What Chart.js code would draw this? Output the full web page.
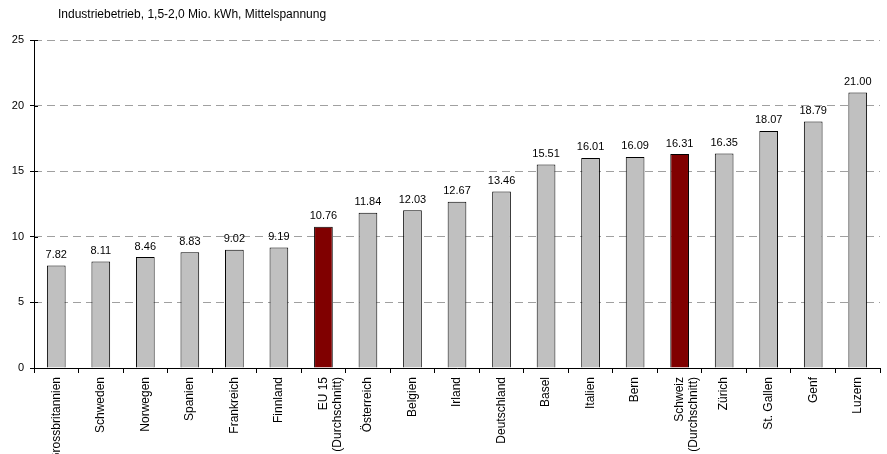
<!DOCTYPE html>
<html lang="de">
<head>
<meta charset="UTF-8">
<title>Industriebetrieb Strompreise</title>
<script src="https://cdn.jsdelivr.net/npm/chart.js"></script>
<style>
  html, body { margin: 0; padding: 0; background: #fff; }
  #wrap { width: 887px; height: 454px; position: relative; }
</style>
</head>
<body>
<div id="wrap"><canvas id="chart"></canvas></div>
<script>
// --- data ---
const categories = [
  'Grossbritannien', 'Schweden', 'Norwegen', 'Spanien', 'Frankreich', 'Finnland',
  ['EU 15', '(Durchschnitt)'], 'Österreich', 'Belgien', 'Irland', 'Deutschland',
  'Basel', 'Italien', 'Bern', ['Schweiz', '(Durchschnitt)'], 'Zürich', 'St. Gallen',
  'Genf', 'Luzern'
];
const values = [7.82, 8.11, 8.46, 8.83, 9.02, 9.19, 10.76, 11.84, 12.03, 12.67, 13.46,
  15.51, 16.01, 16.09, 16.31, 16.35, 18.07, 18.79, 21.00];
const highlighted = [6, 14];   // average bars
const yTicks = [0, 5, 10, 15, 20, 25];
const titleText = 'Industriebetrieb, 1,5-2,0 Mio. kWh, Mittelspannung';

const FONT = '"Liberation Sans", Arial, sans-serif';

const barColors = values.map((v, i) => highlighted.includes(i) ? '#800000' : '#c0c0c0');

// value labels above bars, title, solid y axis line with crossing ticks
const extras = {
  id: 'extras',
  afterDatasetsDraw(chart) {
    const ctx = chart.ctx;
    const area = chart.chartArea;
    const yScale = chart.scales.y;
    const meta = chart.getDatasetMeta(0);
    ctx.save();
    ctx.strokeStyle = '#000';
    ctx.lineWidth = 1;
    ctx.beginPath();
    ctx.moveTo(area.left + 0.5, area.top);
    ctx.lineTo(area.left + 0.5, area.bottom);
    yTicks.forEach(v => {
      const y = Math.round(yScale.getPixelForValue(v)) + 0.5;
      ctx.moveTo(area.left, y);
      ctx.lineTo(area.left + 4, y);
    });
    ctx.stroke();
    ctx.fillStyle = '#000';
    ctx.font = '11px ' + FONT;
    ctx.textAlign = 'center';
    ctx.textBaseline = 'bottom';
    meta.data.forEach((bar, i) => {
      ctx.fillText(values[i].toFixed(2), bar.x, bar.y - 5);
    });
    ctx.font = '12px ' + FONT;
    ctx.textAlign = 'left';
    ctx.textBaseline = 'middle';
    ctx.fillText(titleText, 58, 15);
    ctx.restore();
  }
};

new Chart(document.getElementById('chart'), {
  type: 'bar',
  data: {
    labels: categories,
    datasets: [{
      data: values,
      backgroundColor: barColors,
      borderColor: '#000',
      borderWidth: 1,
      categoryPercentage: 1,
      barPercentage: 0.42
    }]
  },
  options: {
    responsive: true,
    maintainAspectRatio: false,
    animation: false,
    layout: { padding: { top: 40, right: 7, left: 0, bottom: 0 } },
    plugins: {
      legend: { display: false },
      tooltip: { enabled: false }
    },
    scales: {
      x: {
        afterFit(scale) { scale.height = 86; },
        border: { color: '#000', width: 1 },
        grid: {
          offset: true,
          drawOnChartArea: false,
          drawTicks: true,
          tickLength: 5,
          tickColor: '#000'
        },
        ticks: {
          minRotation: 90,
          maxRotation: 90,
          autoSkip: false,
          color: '#000',
          padding: 4,
          font: { family: FONT, size: 12 }
        }
      },
      y: {
        min: 0,
        max: 25,
        afterFit(scale) { scale.width = 34; },
        afterBuildTicks(scale) { scale.ticks = yTicks.map(v => ({ value: v })); },
        border: { display: false, dash: [8, 5] },
        grid: {
          color: '#a0a0a0',
          tickLength: 4,
          tickColor: '#000',
          tickBorderDash: [],
          drawTicks: true
        },
        ticks: {
          color: '#000',
          padding: 6,
          font: { family: FONT, size: 11 }
        }
      }
    }
  },
  plugins: [extras]
});
</script>
</body>
</html>
